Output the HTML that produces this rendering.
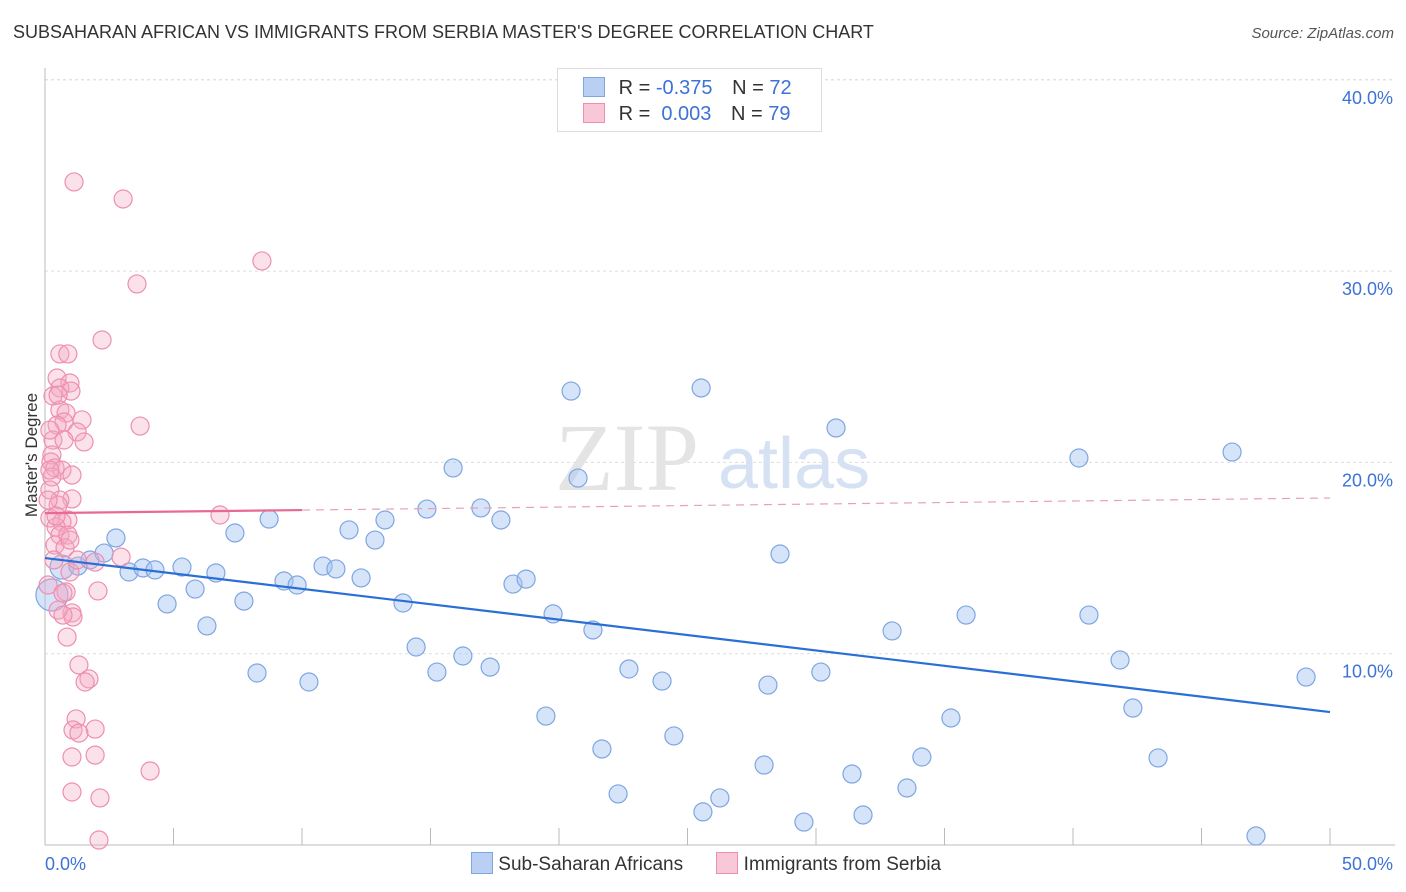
<!DOCTYPE html>
<html><head><meta charset="utf-8">
<style>
body{margin:0;background:#fff;font-family:"Liberation Sans",sans-serif;}
#wrap{position:relative;width:1406px;height:892px;overflow:hidden;}
.t{position:absolute;white-space:nowrap;}
</style></head>
<body>
<div id="wrap">
<div class="t" style="left:13px;top:22px;font-size:18px;color:#333;">SUBSAHARAN AFRICAN VS IMMIGRANTS FROM SERBIA MASTER'S DEGREE CORRELATION CHART</div>
<div class="t" style="right:12px;top:25px;font-size:15px;color:#555;font-style:italic;">Source: ZipAtlas.com</div>
<div class="t" style="left:-30px;top:445px;font-size:17px;color:#333;transform:rotate(-90deg);">Master's Degree</div>
<svg id="plot" width="1406" height="892" style="position:absolute;left:0;top:0;"></svg>
</div>
<script>
const blueX=[0.27,0.66,1.28,1.75,2.30,2.76,3.27,3.81,4.28,4.75,5.33,5.84,6.30,6.65,7.39,7.74,8.25,8.72,9.30,9.81,10.27,10.82,11.32,11.83,12.30,12.84,13.23,13.93,14.44,14.86,15.25,15.88,16.26,16.96,17.32,17.74,18.21,18.72,19.49,19.77,20.47,20.74,21.32,21.67,22.30,22.72,24.01,24.47,25.53,25.60,26.26,27.98,28.13,28.60,29.53,30.19,30.78,31.40,31.83,32.96,33.54,34.12,35.25,35.84,40.23,40.62,41.83,42.33,43.31,46.19,47.12,49.07];
const blueY=[13.07,14.53,14.58,14.90,15.26,16.05,14.27,14.48,14.38,12.60,14.53,13.38,11.45,14.22,16.31,12.75,8.99,17.04,13.80,13.59,8.52,14.58,14.43,16.47,13.96,15.94,16.99,12.65,10.35,17.56,9.04,19.71,9.88,17.62,9.30,16.99,13.64,13.90,6.74,12.08,23.73,19.18,11.24,5.02,2.67,9.20,8.57,5.70,23.89,1.73,2.46,4.18,8.36,15.21,1.20,9.04,21.80,3.71,1.57,11.19,2.98,4.60,6.64,12.02,20.23,12.02,9.67,7.16,4.55,20.54,0.47,8.78];
const pinkX=[1.13,3.04,8.44,3.58,2.22,0.58,0.89,0.47,0.97,0.58,1.01,0.31,0.58,0.82,1.44,3.70,0.74,0.47,1.25,0.31,1.52,0.27,0.23,0.39,0.66,0.27,0.19,1.05,0.58,0.51,0.19,0.89,0.66,0.43,6.81,0.58,0.89,0.39,0.78,2.96,1.95,0.97,0.12,0.82,0.70,2.06,1.05,1.09,0.86,1.32,1.71,1.56,1.21,1.95,1.09,1.32,1.05,1.95,4.09,1.05,2.14,2.10,0.12,0.43,0.19,0.51,1.05,0.74,0.35,1.25,0.51,0.70,0.97,0.19];
const pinkY=[34.66,33.77,30.53,29.33,26.40,25.67,25.67,24.41,24.15,23.89,23.73,23.47,22.74,22.58,22.22,21.90,22.11,21.95,21.59,21.17,21.07,20.39,20.02,19.71,19.60,19.24,18.56,18.09,18.03,17.77,17.09,16.99,16.88,16.62,17.25,16.20,16.20,15.68,15.53,15.05,14.79,14.27,13.59,13.23,13.17,13.28,12.13,11.92,10.87,9.41,8.68,8.52,6.59,6.06,6.01,5.85,4.60,4.70,3.87,2.77,2.46,0.26,18.03,17.20,19.60,23.52,19.34,21.17,14.90,14.90,12.28,12.02,15.94,21.69];
const blueTrend=[15.0,6.95];
const pinkTrend=[17.35,18.14];
const yTicks=[10,20,30,40];
const yTickLabels=["10.0%","20.0%","30.0%","40.0%"];
const xTicks=[0,5,10,15,20,25,30,35,40,45,50];

const NS="http://www.w3.org/2000/svg";
const svg=document.getElementById('plot');
const xs=v=>45+v*25.7;
const ys=v=>845-v*19.13;
function mk(tag,attrs,parent){const e=document.createElementNS(NS,tag);for(const k in attrs)e.setAttribute(k,attrs[k]);(parent||svg).appendChild(e);return e;}

yTicks.forEach((t,i)=>{
  const g=mk('line',{x1:45,x2:1395,y1:ys(t),y2:ys(t),stroke:'#ddd','stroke-dasharray':'3,3'});
  
  
  const tx=mk('text',{x:1393,y:ys(t)+24,'text-anchor':'end','font-size':18,fill:'#3d72d6','font-family':'Liberation Sans, sans-serif'});
  tx.textContent=yTickLabels[i];
  
  
});
mk('line',{x1:45,x2:1395,y1:ys(40),y2:ys(40),stroke:'#ddd','stroke-dasharray':'3,3'});
const xa=mk('line',{x1:45,x2:1395,y1:845,y2:845,stroke:'#bbb'});


const ya=mk('line',{x1:45,x2:45,y1:68,y2:845,stroke:'#bbb'});


xTicks.forEach(t=>{
  const l=mk('line',{x1:xs(t),x2:xs(t),y1:828,y2:845,stroke:'#bbb'});
  
  
});
const xl0=mk('text',{x:45,y:870,'font-size':18,fill:'#3d72d6','font-family':'Liberation Sans, sans-serif'});xl0.textContent='0.0%';


const xl1=mk('text',{x:1393,y:870,'text-anchor':'end','font-size':18,fill:'#3d72d6','font-family':'Liberation Sans, sans-serif'});xl1.textContent='50.0%';



// watermark
const wm=mk('text',{x:555,y:490,'font-size':96,fill:'#e4e4e4','font-family':'Liberation Serif, serif'});wm.textContent='ZIP';


const wm2=mk('text',{x:718,y:488,'font-size':72,fill:'#d6e2f4','font-family':'Liberation Sans, sans-serif'});wm2.textContent='atlas';



blueX.forEach((x,i)=>{
  const r=i===0?16:(i===1?12:9);
  const c=mk('circle',{cx:xs(x),cy:ys(blueY[i]),r:r,fill:'rgba(164,196,244,0.45)',stroke:'#7ea6e0','stroke-width':1.2});
  
  
});
pinkX.forEach((x,i)=>{
  const c=mk('circle',{cx:xs(x),cy:ys(pinkY[i]),r:9,fill:'rgba(244,170,195,0.35)',stroke:'#ee8fb0','stroke-width':1.2});
  
  
});
const bl=mk('line',{x1:xs(0),y1:ys(blueTrend[0]),x2:xs(50),y2:ys(blueTrend[1]),stroke:'#2a6fd6','stroke-width':2.2});


const pAt=x=>pinkTrend[0]+(pinkTrend[1]-pinkTrend[0])*x/50;
const pl=mk('line',{x1:xs(0),y1:ys(pAt(0)),x2:xs(10),y2:ys(pAt(10)),stroke:'#e86a93','stroke-width':2.2});


const pd=mk('line',{x1:xs(10),y1:ys(pAt(10)),x2:xs(50),y2:ys(pAt(50)),stroke:'#e8a0b8','stroke-width':1.2,'stroke-dasharray':'8,6'});


</script>
<div style="position:absolute;left:557px;top:68px;width:263px;height:62px;border:1px solid #ddd;background:#fff;font-size:20px;">
  <div style="position:absolute;left:25px;top:8px;white-space:nowrap;">
    <span style="display:inline-block;width:20px;height:18px;background:#b9d0f4;border:1px solid #7ea6e0;vertical-align:-3px;"></span>
    <span style="color:#333;margin-left:8px;">R = </span><span style="color:#3d72d6;">-0.375</span>
    <span style="color:#333;margin-left:14px;">N = </span><span style="color:#3d72d6;">72</span>
  </div>
  <div style="position:absolute;left:25px;top:34px;white-space:nowrap;">
    <span style="display:inline-block;width:20px;height:18px;background:#f8c8d8;border:1px solid #ee8fb0;vertical-align:-3px;"></span>
    <span style="color:#333;margin-left:8px;">R = </span><span style="color:#3d72d6;">&nbsp;0.003</span>
    <span style="color:#333;margin-left:14px;">N = </span><span style="color:#3d72d6;">79</span>
  </div>
</div>
<div style="position:absolute;left:471px;top:852px;font-size:19px;color:#333;white-space:nowrap;">
  <span><span style="display:inline-block;width:20px;height:20px;background:#b9d0f4;border:1px solid #7ea6e0;vertical-align:-4px;"></span> Sub-Saharan Africans</span>
  <span style="margin-left:28px;"><span style="display:inline-block;width:20px;height:20px;background:#f8c8d8;border:1px solid #ee8fb0;vertical-align:-4px;"></span> Immigrants from Serbia</span>
</div>
</body></html>
